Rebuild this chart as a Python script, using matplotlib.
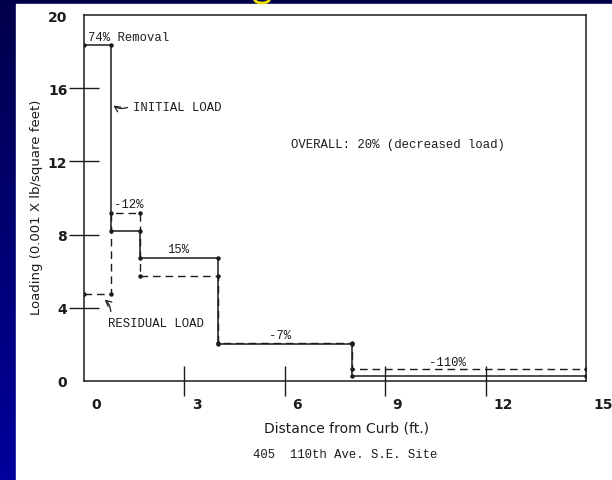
import matplotlib.pyplot as plt
import matplotlib.patches as patches
from matplotlib.colors import LinearSegmentedColormap
from matplotlib.transforms import ScaledTranslation
import numpy as np

# distance from curb (ft) where the load steps change, and loads (0.001 x lb/sq ft)
edges = [0, 0.8, 1.67, 4.0, 8.0, 15]
initial_load = [18.35, 8.2, 6.7, 2.0, 0.25]
residual_load = [4.75, 9.2, 5.75, 2.1, 0.65]
x_ticks = [0, 3, 6, 9, 12, 15]
y_ticks = [0, 4, 8, 12, 16, 20]

ink = '#1c1c1c'
mono = 'Liberation Mono'

fig = plt.figure(figsize=(6.12, 4.81), dpi=100)

# slide background: blue gradient with the white scanned page on top
bg = fig.add_axes([0, 0, 1, 1])
grad = np.linspace(0, 1, 256).reshape(-1, 1)
cmap = LinearSegmentedColormap.from_list('slide', ['#00004a', '#00009c'])
bg.imshow(grad, aspect='auto', cmap=cmap, extent=[0, 1, 0, 1])
page = patches.Rectangle((16 / 612, 0), 1 - 16 / 612, 476 / 481,
                         transform=bg.transAxes, color='white')
bg.add_patch(page)
# tail of the yellow slide title that peeks in at the top edge
tail = patches.Arc((262 / 612, 1.0), 15 / 612, 8 / 481, theta1=180,
                   theta2=360, color='#f0e000', lw=2)
bg.add_patch(tail)
bg.set_xlim(0, 1)
bg.set_ylim(0, 1)
bg.axis('off')

ax = fig.add_axes([84 / 612, 99 / 481, 502 / 612, 366 / 481])
ax.set_xlim(0, 15)
ax.set_ylim(0, 20)

# step curves with a dot at every corner
xs = np.repeat(edges, 2)[1:-1]
ax.plot(xs, np.repeat(initial_load, 2), color=ink, lw=1.1,
        marker='o', ms=2.2)
ax.plot(xs, np.repeat(residual_load, 2), color=ink, lw=1.0,
        ls=(0, (5.5, 3.5)), marker='o', ms=2.2)

# annotations
txt = dict(family=mono, fontsize=8.8, color=ink, va='center')
ax.text(0.13, 18.8, '74% Removal', ha='left', **txt)
ax.text(0.9, 9.67, '-12%', ha='left', **txt)
ax.text(2.8, 7.2, '15%', ha='center', **txt)
ax.text(5.86, 2.53, '-7%', ha='center', **txt)
ax.text(10.87, 1.05, '-110%', ha='center', **txt)
ax.text(1.45, 14.97, 'INITIAL LOAD', ha='left', **txt)
ax.text(0.73, 3.15, 'RESIDUAL LOAD', ha='left', **txt)
ax.text(6.2, 12.95, 'OVERALL: 20% (decreased load)', ha='left', **txt)

arrow = dict(arrowstyle='->', color=ink, lw=0.9, shrinkA=0, shrinkB=0,
             connectionstyle='arc3,rad=-0.25')
ax.annotate('', xy=(0.88, 15.05), xytext=(1.3, 14.95), arrowprops=arrow)
ax.annotate('', xy=(0.62, 4.45), xytext=(0.8, 3.8),
            arrowprops=dict(arrow, connectionstyle='arc3,rad=0.2'))

# axes frame and cross ticks
for s in ax.spines.values():
    s.set_linewidth(1.1)
    s.set_color(ink)

ax.set_yticks(y_ticks)
ax.set_yticklabels([str(v) for v in y_ticks], fontweight='bold')
ax.tick_params(axis='y', direction='inout', length=22, width=1.0,
               pad=1, labelsize=10, colors=ink)
ax.set_xticks(x_ticks)
ax.set_xticklabels([str(v) for v in x_ticks], fontweight='bold', ha='left')
ax.tick_params(axis='x', direction='inout', length=21, width=1.0,
               pad=1, labelsize=10, colors=ink)
for ticks in (ax.yaxis.get_major_ticks(), ax.xaxis.get_major_ticks()):
    ticks[0].tick1line.set_visible(False)
    ticks[-1].tick1line.set_visible(False)
shift = ScaledTranslation(0.075, 0, fig.dpi_scale_trans)
for lab in ax.get_xticklabels():
    lab.set_transform(lab.get_transform() + shift)

fig.text(37 / 612, 1 - 207 / 481, 'Loading (0.001 X lb/square feet)',
         rotation=90, ha='center', va='center', fontsize=9.5, color=ink)
fig.text(346 / 612, 1 - 428 / 481, 'Distance from Curb (ft.)',
         ha='center', va='center', fontsize=10, color=ink)
fig.text(345 / 612, 1 - 455 / 481, '405  110th Ave. S.E. Site',
         ha='center', va='center', family=mono, fontsize=8.8, color=ink)

plt.savefig('out.png', dpi=100)
plt.close()
